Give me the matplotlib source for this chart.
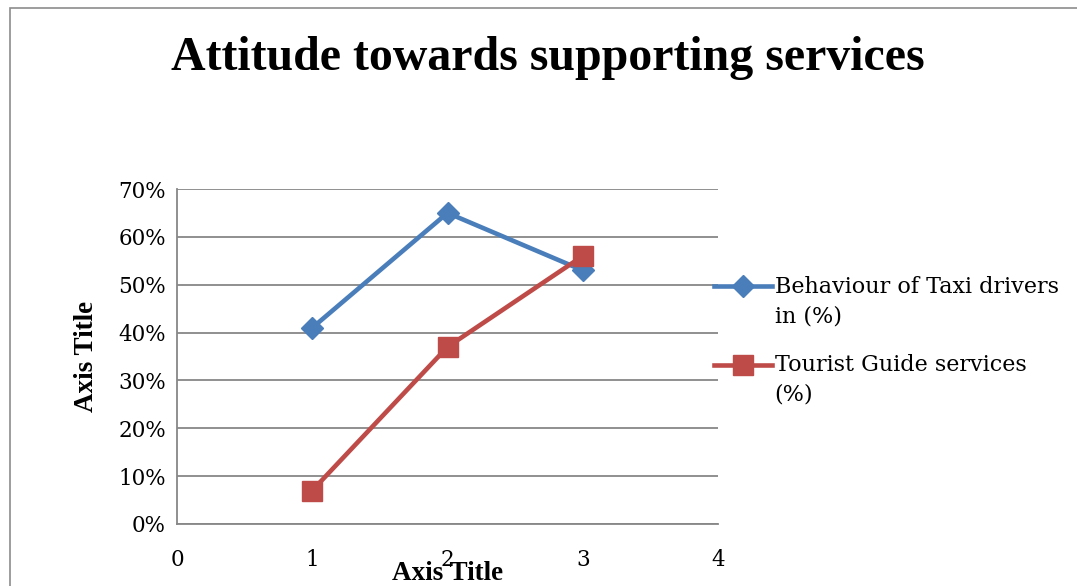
import matplotlib.pyplot as plt
from matplotlib.patches import Rectangle
from matplotlib.ticker import PercentFormatter

# data
x_vals = [1, 2, 3]
taxi = [41, 65, 53]
guide = [7, 37, 56]
taxi_label = 'Behaviour of Taxi drivers\nin (%)'
guide_label = 'Tourist Guide services\n(%)'
title = 'Attitude towards supporting services'

serif = ['Liberation Serif', 'DejaVu Serif']
body = ['DejaVu Serif']
blue = '#4A7EBB'
red = '#BE4B48'
grid_col = '#878787'

fig = plt.figure(figsize=(10.77, 5.86), dpi=100)
# outer chart border (cropped at right and bottom)
fig.patches.append(Rectangle((10/1077, -0.1), 1.2, 1 - 8/586 + 0.1, transform=fig.transFigure,
                             fill=False, edgecolor='#8c8c8c', linewidth=1.2))

ax = fig.add_axes([177/1077, 1 - 524/586, (718 - 177)/1077, (524 - 189)/586])
ax.plot(x_vals, taxi, color=blue, lw=3.3, marker='D', markersize=11, label=taxi_label)
ax.plot(x_vals, guide, color=red, lw=3.3, marker='s', markersize=14, label=guide_label)

ax.set_xlim(0, 4)
ax.set_ylim(0, 70)
ax.set_xticks([0, 1, 2, 3, 4])
ax.set_yticks(range(0, 71, 10))
ax.yaxis.set_major_formatter(PercentFormatter(decimals=0))
ax.grid(axis='y', color=grid_col, lw=1.3)
ax.set_axisbelow(True)
for s in ['top', 'right']:
    ax.spines[s].set_visible(False)
for s in ['left', 'bottom']:
    ax.spines[s].set_color(grid_col)
    ax.spines[s].set_linewidth(1.3)
ax.tick_params(length=0, labelsize=15.5)
ax.tick_params(axis='y', pad=8)
ax.tick_params(axis='x', pad=18)
for lab in ax.get_xticklabels() + ax.get_yticklabels():
    lab.set_family(body)

ax.set_ylabel('Axis Title', family=serif, fontweight='bold', fontsize=19.5, labelpad=14)
ax.set_xlabel('Axis Title', family=serif, fontweight='bold', fontsize=19.5, labelpad=-7)

fig.text(548/1077, 1 - 58/586, title, ha='center', va='center',
         family=serif, fontweight='bold', fontsize=34.5)

# tall handle box so the marker sits on the first line of each label
leg = ax.legend(loc='upper left', bbox_to_anchor=(0.993, 0.78), frameon=False,
                prop={'family': body, 'size': 16}, handlelength=2.6, handletextpad=0.12,
                handleheight=5.5, labelspacing=-0.3, borderaxespad=0, borderpad=0)
for t in leg.get_texts():
    t.set_linespacing(1.45)

fig.savefig('out.png', dpi=100)
